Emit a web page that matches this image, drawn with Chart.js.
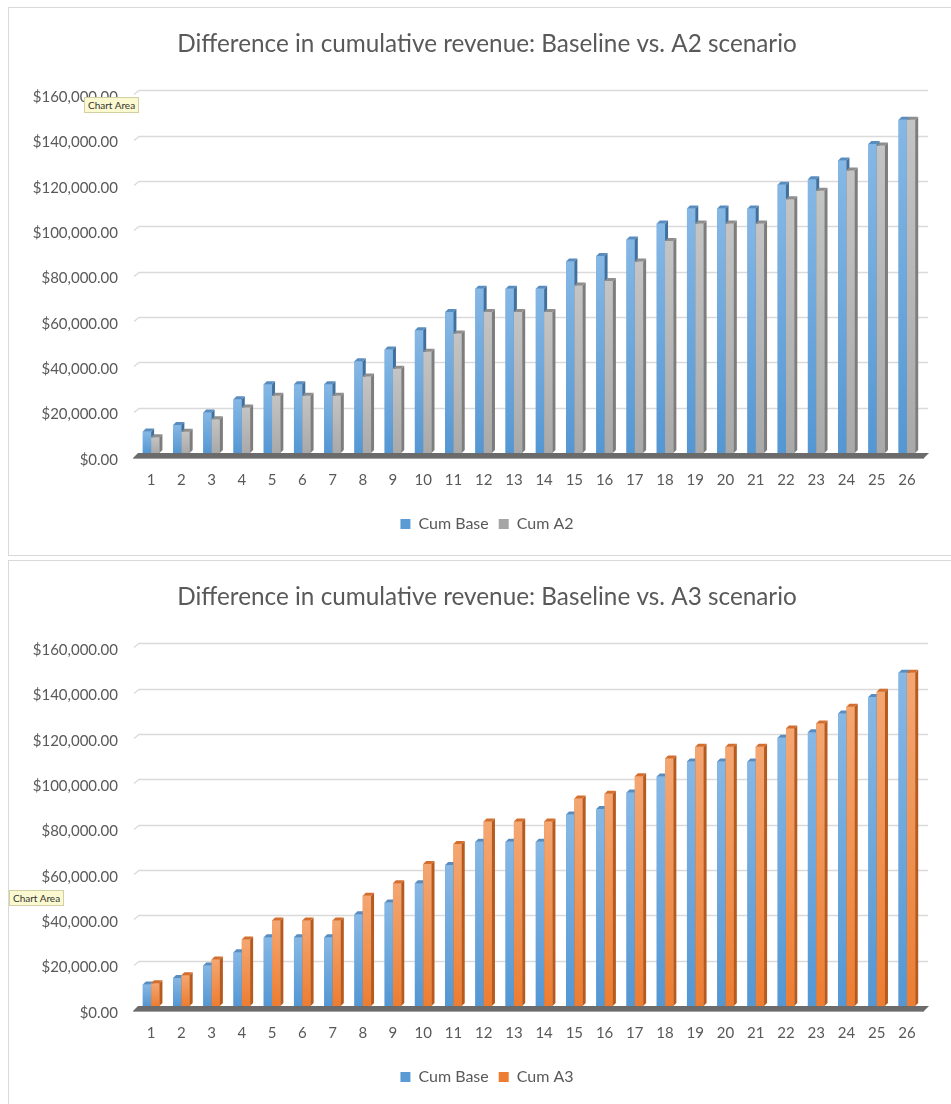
<!DOCTYPE html>
<html>
<head>
<meta charset="utf-8">
<script src="https://cdn.jsdelivr.net/npm/chart.js@4.4.0/dist/chart.umd.min.js"></script>
<style>
  body { margin: 0; background: #fff; }
  .box { position: absolute; left: 8px; width: 960px; height: 547px; border: 1px solid #d9d9d9; background: #fff; }
  #box1 { top: 7px; }
  #box2 { top: 560px; }
  canvas { display: block; }
  .tip { position: absolute; font: 10px Lato, sans-serif; background: #fbf9cf; border: 1px solid #d2cfa2; padding: 1px 3px; color: #333; white-space: nowrap; }
</style>
</head>
<body>
<div class="box" id="box1"><canvas id="chartA2" width="942" height="547"></canvas></div>
<div class="box" id="box2"><canvas id="chartA3" width="942" height="547"></canvas></div>
<div class="tip" style="left:84px; top:97px;">Chart Area</div>
<div class="tip" style="left:9px; top:890px;">Chart Area</div>
<script>
// periods 1..26
const periods = ['1','2','3','4','5','6','7','8','9','10','11','12','13','14','15','16','17','18','19','20','21','22','23','24','25','26'];

const cumBase = [9500, 12300, 17900, 23700, 30300, 30300, 30300, 40500, 45600, 54100, 62200, 72400, 72400,
                 72400, 84400, 86900, 94200, 101200, 107800, 107800, 107800, 118300, 120700, 129000, 136300, 147000];
const cumA2 = [6900, 9400, 14900, 20100, 25200, 25200, 25200, 33700, 37200, 44600, 52700, 62200, 62200,
               62200, 73900, 75900, 84400, 93500, 101200, 101200, 101200, 111900, 115600, 124600, 135600, 147000];
const cumA3 = [10000, 13600, 20500, 29300, 37700, 37700, 37700, 48600, 54100, 62600, 71400, 81400, 81400,
               81400, 91500, 93600, 101300, 109100, 114300, 114300, 114300, 122400, 124600, 132000, 138600, 147000];

const yTicks = [0, 20000, 40000, 60000, 80000, 100000, 120000, 140000, 160000];

const FONT = 'Lato, "Open Sans", sans-serif';
const TEXT = '#595959';

// face colours for the fake 3D columns
const shades = {
  'Cum Base': { base: '#5b9bd5', top: '#86b8e5', bottom: '#5497d3', side: '#3f709e', cap: '#5a8dbf' },
  'Cum A2':   { base: '#a5a5a5', top: '#c4c4c4', bottom: '#a9a9a9', side: '#7d7d7d', cap: '#8e8e8e' },
  'Cum A3':   { base: '#ed7d31', top: '#f4a773', bottom: '#ed7d31', side: '#b65a1d', cap: '#d46e2e' }
};

const depth = 3;

function poly(ctx, pts) {
  ctx.beginPath();
  ctx.moveTo(pts[0], pts[1]);
  for (let i = 2; i < pts.length; i += 2) ctx.lineTo(pts[i], pts[i + 1]);
  ctx.closePath();
  ctx.fill();
}

const bars3d = {
  id: 'bars3d',
  // title and legend are centred on the plot rather than on the whole canvas
  afterLayout(chart) {
    chart.titleBlock.left += 43;
    chart.legend.left += 43;
  },
  beforeDatasetsDraw(chart) {
    const { ctx, chartArea: a, scales: { y } } = chart;
    ctx.save();
    // back wall gridlines, slanted where they meet the side
    ctx.strokeStyle = '#dadada';
    ctx.lineWidth = 1.3;
    y.ticks.forEach(t => {
      if (t.value === 0) return;
      const py = Math.round(y.getPixelForValue(t.value)) + 0.5;
      ctx.beginPath();
      ctx.moveTo(a.left - 2, py + 4);
      ctx.lineTo(a.left + 3, py);
      ctx.lineTo(a.right + 6, py);
      ctx.stroke();
    });
    // floor
    const b = y.getPixelForValue(0);
    ctx.fillStyle = '#6b6b6b';
    poly(ctx, [a.left - 3, b + 5, a.left + 2, b, a.right + 7, b, a.right + 2, b + 5]);
    ctx.fillStyle = '#a0a0a0';
    ctx.fillRect(a.left - 3, b + 5, a.right - a.left + 5, 1);
    ctx.restore();
  },
  afterDatasetsDraw(chart) {
    const ctx = chart.ctx;
    const metas = chart.data.datasets.map((d, i) => chart.getDatasetMeta(i));
    ctx.save();
    for (let i = 0; i < chart.data.labels.length; i++) {
      metas.forEach((meta, di) => {
        const s = shades[chart.data.datasets[di].label];
        const { x, y, width, base } = meta.data[i].getProps(['x', 'y', 'width', 'base'], true);
        const l = x - width / 2, r = x + width / 2;
        const g = ctx.createLinearGradient(0, y, 0, base);
        g.addColorStop(0, s.top);
        g.addColorStop(1, s.bottom);
        ctx.fillStyle = g;
        ctx.fillRect(l, y, width, base - y);
        ctx.fillStyle = s.side;
        poly(ctx, [r, y, r + depth, y - depth, r + depth, base - depth, r, base]);
        ctx.fillStyle = s.cap;
        poly(ctx, [l, y, l + depth, y - depth, r + depth, y - depth, r, y]);
      });
    }
    ctx.restore();
  }
};

function money(v) {
  return '$' + v.toLocaleString('en-US', { minimumFractionDigits: 2, maximumFractionDigits: 2 });
}

function makeChart(id, title, scenarioName, scenarioValues) {
  return new Chart(document.getElementById(id), {
    type: 'bar',
    data: {
      labels: periods,
      datasets: [
        { label: 'Cum Base', data: cumBase, backgroundColor: shades['Cum Base'].base },
        { label: scenarioName, data: scenarioValues, backgroundColor: shades[scenarioName].base }
      ]
    },
    options: {
      responsive: false,
      animation: false,
      layout: { padding: { top: 10, left: 0, right: 29, bottom: 13 } },
      datasets: { bar: { categoryPercentage: 0.55, barPercentage: 1.0 } },
      plugins: {
        title: {
          display: true,
          text: title,
          color: TEXT,
          font: { family: FONT, size: 24.3, weight: 'normal' },
          padding: { top: 12, bottom: 31 }
        },
        legend: {
          position: 'bottom',
          labels: {
            color: TEXT,
            font: { family: FONT, size: 16 },
            boxWidth: 10,
            boxHeight: 10,
            padding: 10
          }
        },
        tooltip: { enabled: false }
      },
      scales: {
        x: {
          grid: { display: false, drawTicks: false },
          border: { display: false },
          ticks: { color: TEXT, font: { family: FONT, size: 15 }, padding: 18, maxRotation: 0 },
          afterFit(scale) { scale.height = 53; }
        },
        y: {
          min: 0,
          max: 160000,
          afterBuildTicks(scale) { scale.ticks = yTicks.map(v => ({ value: v })); },
          grid: { display: false, drawTicks: false },
          border: { display: false },
          ticks: {
            color: TEXT,
            font: { family: FONT, size: 15 },
            padding: 18,
            labelOffset: 7,
            callback: v => money(v)
          },
          afterFit(scale) { scale.width = 127; }
        }
      }
    },
    plugins: [bars3d]
  });
}

makeChart('chartA2', 'Difference in cumulative revenue: Baseline vs. A2 scenario', 'Cum A2', cumA2);
makeChart('chartA3', 'Difference in cumulative revenue: Baseline vs. A3 scenario', 'Cum A3', cumA3);
</script>
</body>
</html>
